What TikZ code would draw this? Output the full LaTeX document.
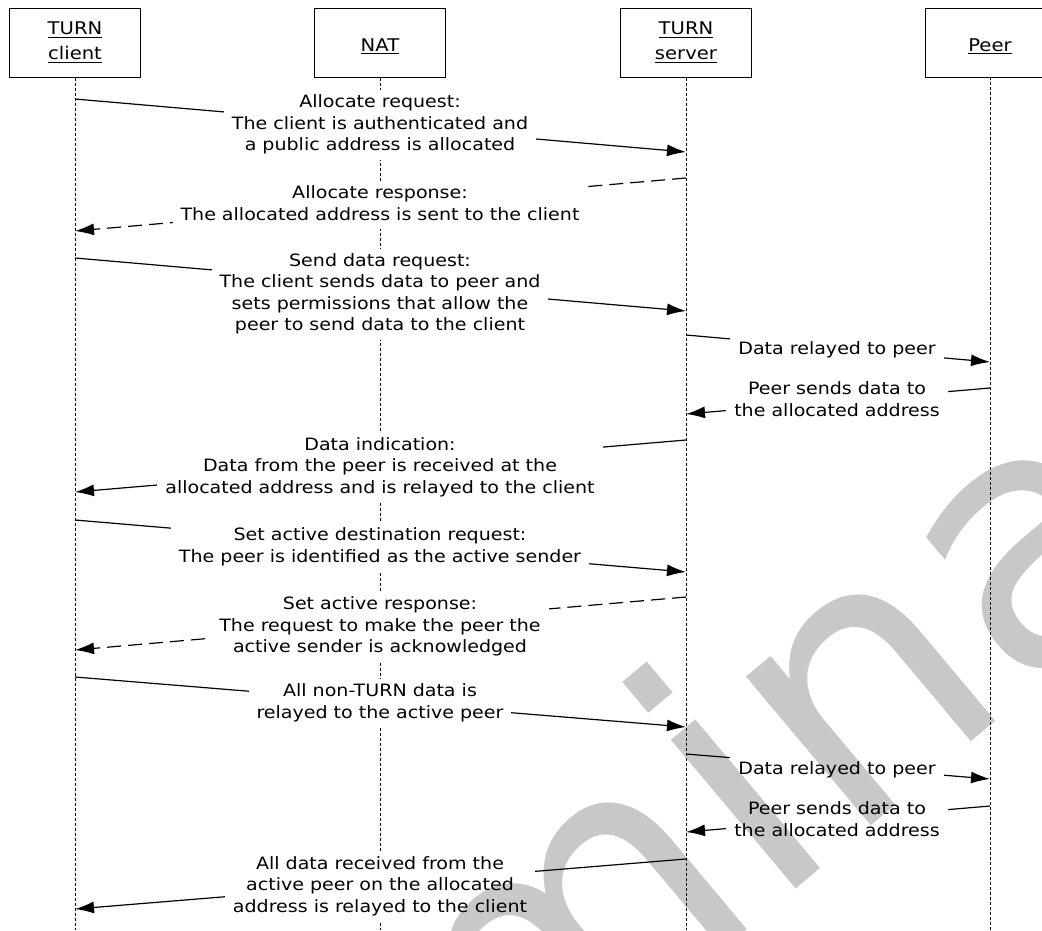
\documentclass[tikz,border=0pt]{standalone}
\usepackage{fontspec}
\setmainfont{DejaVu Sans}[FakeStretch=1.12]
\newfontfamily\wmfont{DejaVu Sans}
\usetikzlibrary{arrows.meta}
\definecolor{wmgray}{RGB}{200,200,200}
\newcommand\hul[1]{\leavevmode\vtop{\hbox{#1}\kern1.6pt\hrule height 1.1pt}}
\begin{document}
\begin{tikzpicture}[x=1pt,y=-1pt,
  txt/.style={font=\fontsize{17}{21.5}\selectfont},
  lbl/.style={txt, fill=white, align=center, inner xsep=8pt, inner ysep=2.5pt},
  hdr/.style={draw, line width=1pt, minimum width=131pt, minimum height=69pt, align=center, font=\fontsize{17.5}{25}\selectfont, inner sep=0pt},
  life/.style={line width=0.9pt, dash pattern=on 3pt off 2pt},
  msg/.style={line width=1.2pt, -{Latex[length=19pt,width=12pt]}},
  rmsg/.style={msg, dash pattern=on 14pt off 7pt},
  wm/.style={font=\wmfont\fontsize{355}{355}\selectfont, text=wmgray, rotate=40, inner sep=0pt}
]
\useasboundingbox (0,0) rectangle (1042,930);
\fill[white] (0,0) rectangle (1042,930);
\clip (0,0) rectangle (1042,930);

% headers
\node[hdr] (client) at (75,42.5) {\hul{TURN}\\\hul{client}};
\node[hdr] (nat) at (380,42.5) {\rule{0pt}{20pt}\hul{NAT}};
\node[hdr] (server) at (686,42.5) {\hul{TURN}\\\hul{server}};
\node[hdr, minimum width=117pt] (peer) at (983.5,42.5) {\hspace*{13pt}\rule{0pt}{20pt}\hul{Peer}};

% lifelines
\coordinate (cB) at (75,930);
\coordinate (nB) at (380,930);
\coordinate (sB) at (686,930);
\coordinate (pT) at (990,77);
\coordinate (pB) at (990,930);
\draw[life] (client.south) -- (cB);
\draw[life] (nat.south) -- (nB);
\draw[life] (server.south) -- (sB);
\draw[life] (pT) -- (pB);

% message end points
\coordinate (a1) at (75,99);   \coordinate (b1) at (686,152);
\coordinate (a2) at (686,178); \coordinate (b2) at (75,231);
\coordinate (a3) at (75,258);  \coordinate (b3) at (686,311);
\coordinate (a4) at (686,335); \coordinate (b4) at (990,362);
\coordinate (a5) at (990,388); \coordinate (b5) at (686,414);
\coordinate (a6) at (686,440); \coordinate (b6) at (75,492);
\coordinate (a7) at (75,520);  \coordinate (b7) at (686,572);
\coordinate (a8) at (686,597); \coordinate (b8) at (75,650);
\coordinate (a9) at (75,677);  \coordinate (b9) at (686,727);
\coordinate (a10) at (686,754); \coordinate (b10) at (990,779);
\coordinate (a11) at (990,806); \coordinate (b11) at (686,832);
\coordinate (a12) at (686,859); \coordinate (b12) at (75,909);

\draw[msg] (a1) -- (b1);
\draw[rmsg] (a2) -- (b2);
\draw[msg] (a3) -- (b3);
\draw[msg] (a4) -- (b4);
\draw[msg] (a5) -- (b5);
\draw[msg] (a6) -- (b6);
\draw[msg] (a7) -- (b7);
\draw[rmsg] (a8) -- (b8);
\draw[msg] (a9) -- (b9);
\draw[msg] (a10) -- (b10);
\draw[msg] (a11) -- (b11);
\draw[msg] (a12) -- (b12);

% labels
\node[lbl] (l1) at (380,125) {\strut Allocate request:\\The client is authenticated and\\a public address is allocated\strut};
\node[lbl] (l2) at (380,205.4) {\strut Allocate response:\\The allocated address is sent to the client\strut};
\node[lbl] (l3) at (380,294) {\strut Send data request:\\The client sends data to peer and\\sets permissions that allow the\\peer to send data to the client\strut};
\node[lbl] (l4) at (837,350.5) {\strut Data relayed to peer\strut};
\node[lbl] (l5) at (837,401) {\strut Peer sends data to\\the allocated address\strut};
\node[lbl] (l6) at (380,467.6) {\strut Data indication:\\Data from the peer is received at the\\allocated address and is relayed to the client\strut};
\node[lbl] (l7) at (380,547) {\strut Set active destination request:\\The peer is identified as the active sender\strut};
\node[lbl] (l8) at (380,627) {\strut Set active response:\\The request to make the peer the\\active sender is acknowledged\strut};
\node[lbl] (l9) at (380,703) {\strut All non-TURN data is\\relayed to the active peer\strut};
\node[lbl] (l10) at (837,770) {\strut Data relayed to peer\strut};
\node[lbl] (l11) at (837,821.2) {\strut Peer sends data to\\the allocated address\strut};
\node[lbl] (l12) at (380,886.4) {\strut All data received from the\\active peer on the allocated\\address is relayed to the client\strut};

% watermark
\begin{scope}[blend mode=multiply]
\coordinate (wmp) at (846,847);
\node[wm, anchor=base east] (wmA) at (wmp) {Prelimi};
\node[wm, anchor=base west] (wmB) at (wmp) {nary};
\end{scope}
\end{tikzpicture}
\end{document}
